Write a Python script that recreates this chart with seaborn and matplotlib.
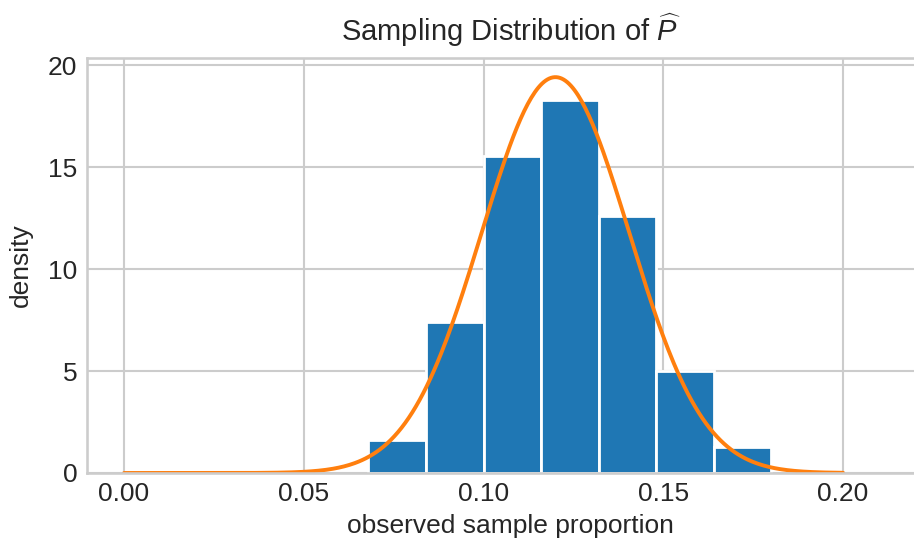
import matplotlib
matplotlib.use("Agg")
import matplotlib.pyplot as plt
import numpy as np
import seaborn as sns

# histogram bins (density per bin)
BIN_EDGES = [0.068, 0.084, 0.100, 0.116, 0.132, 0.148, 0.164, 0.180]
BIN_DENSITY = [1.62, 7.40, 15.54, 18.28, 12.60, 4.98, 1.29]

# normal approximation for p-hat
P_TRUE = 0.12
SAMPLE_SIZE = 250
CURVE_RANGE = (0.0, 0.2)

X_TICKS = [0.00, 0.05, 0.10, 0.15, 0.20]
Y_TICKS = [0, 5, 10, 15, 20]

BAR_COLOR = "#1f77b4"
CURVE_COLOR = "#ff7f0e"

sns.set_theme(style="whitegrid", context="talk")
plt.rcParams["font.family"] = ["Liberation Sans", "DejaVu Sans"]
plt.rcParams["mathtext.fontset"] = "custom"
plt.rcParams["mathtext.rm"] = "Liberation Sans"
plt.rcParams["mathtext.it"] = "Liberation Sans:italic"

fig = plt.figure(figsize=(9.14, 5.42), dpi=100)
ax = fig.add_axes([87 / 914, (542 - 473) / 542, 847 / 914, (473 - 58) / 542])

centers = [(a + b) / 2 for a, b in zip(BIN_EDGES[:-1], BIN_EDGES[1:])]
sns.histplot(x=centers, weights=BIN_DENSITY, bins=BIN_EDGES, stat="count",
             color=BAR_COLOR, alpha=1, edgecolor="white", linewidth=2, ax=ax)

sd = np.sqrt(P_TRUE * (1 - P_TRUE) / SAMPLE_SIZE)
xs = np.linspace(CURVE_RANGE[0], CURVE_RANGE[1], 400)
pdf = np.exp(-0.5 * ((xs - P_TRUE) / sd) ** 2) / (sd * np.sqrt(2 * np.pi))
sns.lineplot(x=xs, y=pdf, color=CURVE_COLOR, linewidth=2.8, ax=ax)

ax.set_xlim(-0.0103, 0.2253)
ax.set_ylim(0, 20.35)
ax.set_xticks(X_TICKS)
ax.set_xticklabels([f"{t:.2f}" for t in X_TICKS])
ax.set_yticks(Y_TICKS)
ax.tick_params(axis="x", labelsize=19, pad=6.5, length=0)
ax.tick_params(axis="y", labelsize=19, pad=7, length=0)
ax.set_xlabel("observed sample proportion", fontsize=19, labelpad=6)
ax.set_ylabel("density", fontsize=19, labelpad=11)
ax.set_title(r"Sampling Distribution of $\widehat{P}$", fontsize=21, pad=12.5)

fig.savefig("out.png", dpi=100)
